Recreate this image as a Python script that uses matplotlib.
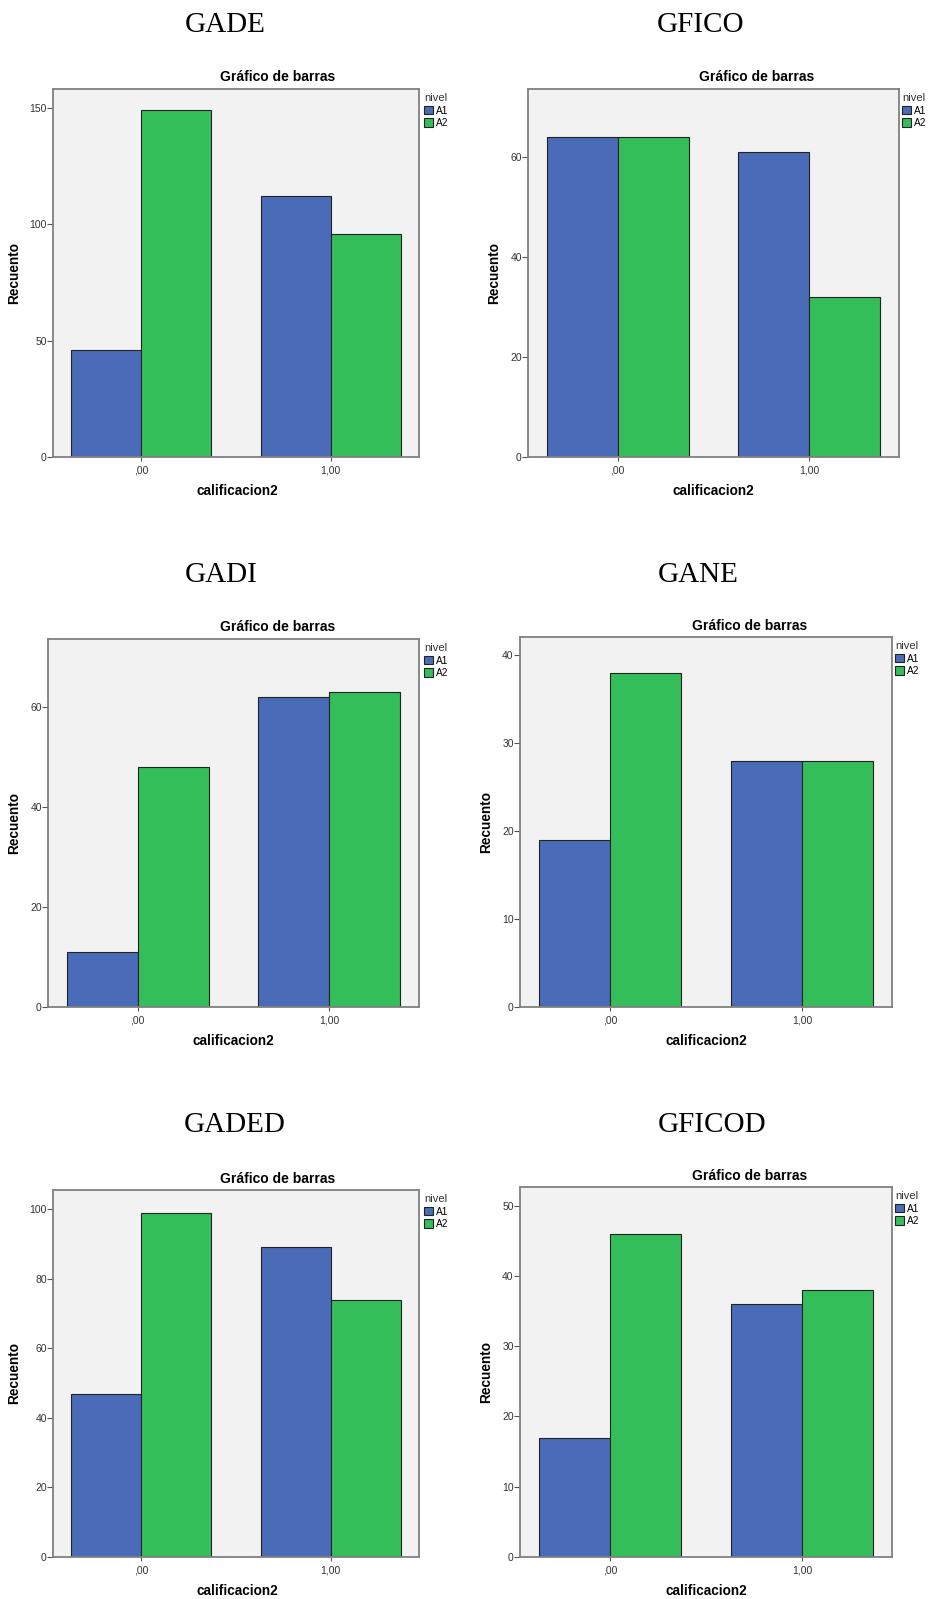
import numpy as np
import matplotlib
matplotlib.use('Agg')
import matplotlib.pyplot as plt

W, H = 930, 1599

# data
titles = ['GADE', 'GFICO', 'GADI', 'GANE', 'GADED', 'GFICOD']
categories = [',00', '1,00']
levels = ['A1', 'A2']
a1_counts = [[46, 112], [64, 61], [11, 62], [19, 28], [47, 89], [17, 36]]
a2_counts = [[149, 96], [64, 32], [48, 63], [38, 28], [99, 74], [46, 38]]
y_ticks = [[0, 50, 100, 150], [0, 20, 40, 60], [0, 20, 40, 60],
           [0, 10, 20, 30, 40], [0, 20, 40, 60, 80, 100], [0, 10, 20, 30, 40, 50]]
y_max = [158.2, 73.7, 73.7, 42.05, 105.5, 52.66]

colors = ['#4a6cb8', '#33be5a']

# layout in pixels: axes box (left, right, top, bottom), big title, chart title,
# legend anchor, ylabel x, xlabel pos
layout = [
    dict(box=(53, 419, 89, 457), big=(225, 25), ct=(278, 77), leg=(424, 93), yl=14, xl=(237, 491)),
    dict(box=(528, 899, 89, 457), big=(701, 25), ct=(757, 77), leg=(902, 93), yl=494, xl=(713, 491)),
    dict(box=(48, 419, 639, 1007), big=(221, 575), ct=(278, 627), leg=(424, 643), yl=14, xl=(233, 1041)),
    dict(box=(520, 892, 637, 1007), big=(698, 575), ct=(750, 626), leg=(895, 641), yl=486, xl=(706, 1041)),
    dict(box=(53, 419, 1190, 1557), big=(235, 1125), ct=(278, 1179), leg=(424, 1194), yl=14, xl=(237, 1591)),
    dict(box=(520, 892, 1187, 1557), big=(712, 1125), ct=(750, 1176), leg=(895, 1191), yl=486, xl=(706, 1591)),
]


def fx(x):
    return x / W


def fy(y):
    return 1 - y / H


fig = plt.figure(figsize=(W / 100, H / 100), dpi=100)
sans = 'Liberation Sans'
serif = 'Liberation Serif'

x = np.arange(len(categories))
bw = 0.37

for i, lay in enumerate(layout):
    l, r, t, b = lay['box']
    ax = fig.add_axes([fx(l), fy(b), (r - l) / W, (b - t) / H])
    ax.set_facecolor('#f2f2f2')

    ax.bar(x - bw / 2, a1_counts[i], bw, color=colors[0], edgecolor='#222222', linewidth=0.8, label=levels[0])
    ax.bar(x + bw / 2, a2_counts[i], bw, color=colors[1], edgecolor='#222222', linewidth=0.8, label=levels[1])

    ax.set_xlim(-0.467, 1.467)
    ax.set_ylim(0, y_max[i])
    ax.set_xticks(x)
    ax.set_xticklabels(categories)
    ax.set_yticks(y_ticks[i])
    ax.set_yticklabels([str(v) for v in y_ticks[i]])
    for lab in ax.get_xticklabels() + ax.get_yticklabels():
        lab.set_fontfamily(sans)
        lab.set_fontsize(7.5)
        lab.set_color('#333333')
    ax.tick_params(axis='y', length=4, width=0.8, color='#555555', pad=0.5)
    ax.tick_params(axis='x', length=3, width=0.8, color='#555555', pad=3)

    for s in ax.spines.values():
        s.set_color('#808080')
        s.set_linewidth(1.3)

    ax.set_ylabel('Recuento', fontfamily=sans, fontsize=9.8, fontweight='bold')
    ax.yaxis.set_label_coords(fx(lay['yl']), fy((t + b) / 2), transform=fig.transFigure)
    ax.yaxis.label.set_va('center')
    ax.set_xlabel('calificacion2', fontfamily=sans, fontsize=9.8, fontweight='bold')
    ax.xaxis.set_label_coords(fx(lay['xl'][0]), fy(lay['xl'][1]), transform=fig.transFigure)
    ax.xaxis.label.set_va('center')

    ax.text(fx(lay['ct'][0]), fy(lay['ct'][1]), 'Gráfico de barras', transform=fig.transFigure,
            ha='center', va='center', fontfamily=sans, fontsize=10, fontweight='bold')
    fig.text(fx(lay['big'][0]), fy(lay['big'][1]), titles[i], ha='center', va='center',
             fontfamily=serif, fontsize=21)

    leg = ax.legend(loc='upper left', bbox_to_anchor=(fx(lay['leg'][0]), fy(lay['leg'][1])),
                    bbox_transform=fig.transFigure, title='nivel', frameon=False,
                    prop={'family': sans, 'size': 7.3}, handlelength=0.9, handleheight=0.9,
                    handletextpad=0.3, labelspacing=0.25, borderpad=0, borderaxespad=0,
                    alignment='left')
    leg.get_title().set_fontfamily(sans)
    leg.get_title().set_fontsize(8)
    leg.get_title().set_color('#333333')

fig.savefig('out.png', dpi=100, facecolor='white')
